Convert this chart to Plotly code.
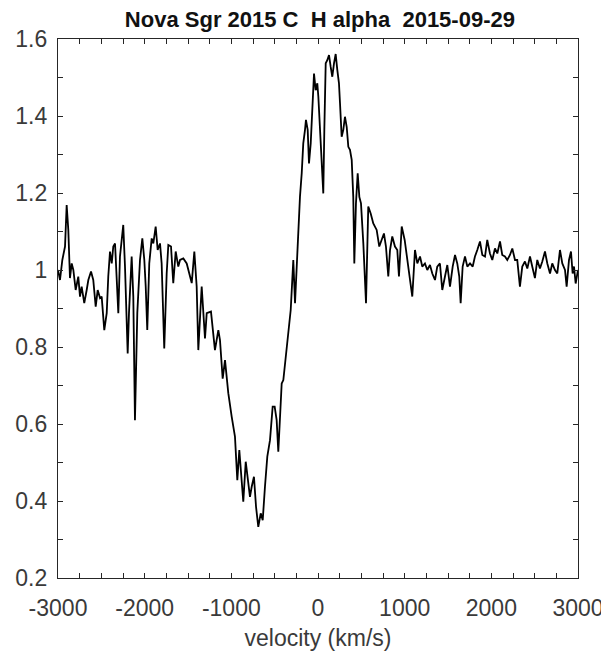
import plotly.graph_objects as go

velocity = [
    -3000, -2977, -2950, -2919, -2900, -2881, -2862, -2842, -2823, -2796,
    -2766, -2746, -2727, -2697, -2669, -2650, -2619, -2593, -2565, -2542,
    -2515, -2496, -2466, -2438, -2420, -2400, -2380, -2362, -2342, -2323,
    -2304, -2285, -2265, -2247, -2227, -2196, -2181, -2150, -2131, -2112,
    -2085, -2054, -2027, -2004, -1988, -1970, -1947, -1919, -1900, -1873,
    -1850, -1823, -1804, -1774, -1746, -1727, -1696, -1670, -1642, -1612,
    -1592, -1554, -1515, -1477, -1457, -1427, -1400, -1381, -1342, -1304,
    -1284, -1235, -1208, -1189, -1150, -1131, -1100, -1073, -1035, -1015,
    -996, -958, -931, -908, -880, -862, -834, -811, -785, -765,
    -739, -715, -689, -661, -638, -612, -585, -554, -523, -500,
    -477, -458, -439, -419, -400, -369, -343, -315, -300, -285,
    -265, -250, -227, -208, -188, -170, -150, -139, -119, -104,
    -84, -66, -46, -27, -8, 4, 23, 43, 61, 73,
    89, 107, 127, 146, 165, 185, 204, 223, 242, 254,
    273, 292, 311, 331, 350, 369, 389, 407, 419, 438,
    458, 477, 496, 523, 554, 580, 608, 638, 677, 707,
    735, 761, 784, 811, 831, 857, 888, 915, 934, 966,
    1000, 1030, 1058, 1088, 1119, 1146, 1177, 1203, 1234, 1261,
    1292, 1319, 1350, 1376, 1407, 1434, 1465, 1492, 1523, 1554,
    1581, 1607, 1630, 1646, 1669, 1696, 1723, 1754, 1785, 1811,
    1838, 1869, 1896, 1927, 1953, 1984, 2011, 2042, 2069, 2100,
    2126, 2157, 2184, 2215, 2242, 2273, 2299, 2330, 2357, 2388,
    2415, 2446, 2472, 2503, 2530, 2561, 2588, 2619, 2646, 2677,
    2703, 2734, 2761, 2792, 2819, 2850, 2869, 2896, 2919, 2938,
    2954, 2973, 3000,
]

flux = [
    1.000, 0.974, 1.026, 1.061, 1.169, 1.104, 0.979, 1.017, 1.000, 0.948,
    0.983, 0.931, 0.957, 0.914, 0.948, 0.974, 0.996, 0.974, 0.905, 0.948,
    0.927, 0.931, 0.844, 0.888, 0.983, 1.048, 1.017, 1.061, 1.069, 0.991,
    0.888, 1.035, 1.082, 1.117, 1.009, 0.783, 0.888, 1.035, 0.930, 0.610,
    0.888, 1.026, 1.082, 1.026, 0.957, 0.844, 1.017, 1.082, 1.069, 1.113,
    1.052, 1.069, 1.017, 0.796, 0.991, 1.065, 1.061, 0.966, 1.048, 1.009,
    1.026, 1.030, 1.017, 0.983, 0.966, 1.048, 0.957, 0.792, 0.957, 0.822,
    0.888, 0.892, 0.835, 0.792, 0.844, 0.818, 0.718, 0.766, 0.680, 0.645,
    0.619, 0.567, 0.454, 0.532, 0.454, 0.398, 0.502, 0.454, 0.411, 0.437,
    0.463, 0.385, 0.333, 0.368, 0.350, 0.437, 0.515, 0.558, 0.645, 0.645,
    0.610, 0.528, 0.610, 0.705, 0.714, 0.783, 0.844, 0.896, 0.960, 1.026,
    0.914, 0.990, 1.121, 1.190, 1.251, 1.329, 1.364, 1.390, 1.364, 1.277,
    1.329, 1.407, 1.510, 1.467, 1.485, 1.450, 1.364, 1.303, 1.199, 1.364,
    1.537, 1.545, 1.558, 1.528, 1.502, 1.537, 1.561, 1.519, 1.485, 1.433,
    1.346, 1.364, 1.398, 1.372, 1.320, 1.312, 1.286, 1.190, 1.017, 1.173,
    1.251, 1.190, 1.173, 1.069, 0.914, 1.165, 1.147, 1.121, 1.104, 1.061,
    1.078, 1.095, 1.061, 0.983, 1.052, 1.087, 1.061, 1.052, 0.983, 1.113,
    1.078, 1.026, 0.983, 0.931, 1.052, 1.017, 1.035, 1.009, 1.017, 1.000,
    1.013, 0.991, 0.974, 1.009, 1.017, 0.948, 0.983, 1.013, 0.957, 1.009,
    1.039, 1.017, 0.983, 0.914, 1.009, 1.035, 1.009, 1.017, 1.009, 1.035,
    1.052, 1.074, 1.039, 1.035, 1.078, 1.043, 1.026, 1.056, 1.043, 1.074,
    1.039, 1.035, 1.026, 1.039, 1.056, 1.026, 1.026, 0.957, 1.009, 1.022,
    1.004, 1.035, 1.009, 0.979, 1.026, 1.004, 1.022, 1.048, 1.017, 0.991,
    1.017, 1.000, 0.991, 1.052, 1.017, 1.000, 0.957, 1.026, 1.048, 0.991,
    1.009, 0.965, 1.000,
]

x_tick_values = [-3000 + 250 * i for i in range(25)]
x_tick_labels = [str(v) if v % 1000 == 0 else "" for v in x_tick_values]
y_tick_values = [round(0.2 + 0.1 * i, 1) for i in range(15)]
y_tick_labels = [f"{v:g}" if round(v * 10) % 2 == 0 else "" for v in y_tick_values]

title_text = "Nova Sgr 2015 C\u00a0\u00a0H alpha\u00a0\u00a02015-09-29"
x_title = "velocity (km/s)"

fig = go.Figure()
fig.add_trace(go.Scatter(
    x=velocity, y=flux, mode="lines",
    line=dict(color="black", width=1.8),
    showlegend=False, hoverinfo="skip",
))

axis_color = "#262626"
label_font = dict(family="Liberation Sans, Arial, sans-serif", size=23, color="#3a3a3a")

# The page body has an 8px margin, so the figure is sized to fit the 609x656 window.
fig.update_layout(
    width=601, height=648,
    margin=dict(l=50, r=31, t=31, b=78, autoexpand=False),
    paper_bgcolor="white", plot_bgcolor="white",
    title=dict(
        text=title_text, x=0.519, xanchor="center", y=0.983, yanchor="middle",
        font=dict(family="Liberation Sans, Arial, sans-serif", size=22, color="#111111", weight="bold"),
    ),
    xaxis=dict(
        range=[-3000, 3000], tickmode="array", tickvals=x_tick_values, ticktext=x_tick_labels,
        ticks="inside", ticklen=5, tickcolor=axis_color, tickwidth=1,
        showline=True, linecolor=axis_color, linewidth=1.3, mirror="ticks",
        showgrid=False, zeroline=False, tickfont=label_font, automargin=False,
        ticklabelstandoff=9,
        title=dict(text=x_title, font=label_font, standoff=10),
    ),
    yaxis=dict(
        range=[0.2, 1.6], tickmode="array", tickvals=y_tick_values, ticktext=y_tick_labels,
        ticks="inside", ticklen=5, tickcolor=axis_color, tickwidth=1,
        showline=True, linecolor=axis_color, linewidth=1.3, mirror="ticks",
        showgrid=False, zeroline=False, tickfont=label_font, automargin=False,
        ticklabelstandoff=5,
    ),
)

fig.write_html("out.html")
